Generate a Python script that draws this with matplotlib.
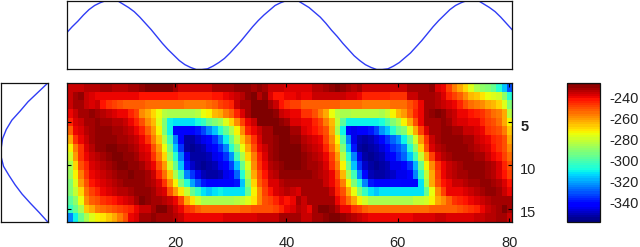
import numpy as np
import matplotlib
matplotlib.use("Agg")
import matplotlib.pyplot as plt
from matplotlib.transforms import ScaledTranslation

plt.rcParams['font.family'] = ['Liberation Sans', 'DejaVu Sans']
plt.rcParams['axes.unicode_minus'] = False

heat_rows = [
[-236,-236,-236,-234,-234,-234,-232,-232,-234,-234,-234,-232,-232,-230,-228,-228,-228,-228,-228,-232,-236,
 -236,-236,-236,-236,-236,-232,-232,-232,-232,-230,-230,-230,-232,-230,-232,-236,-236,-236,-238,-238,-238,
 -238,-238,-234,-234,-232,-230,-228,-230,-232,-234,-232,-235,-235,-236,-236,-236,-236,-236,-236,
 -232,-232,-232,-232,-230,-238,-240,-248,-256,-262,-268,-276,-284,-288,-290,-296,-305,-315,-330],
[-236,-232,-230,-236,-238,-240,-240,-240,-240,-240,-240,-240,-240,-242,-242,-242,-242,-242,-242,-242,-244,
 -243,-244,-244,-244,-243,-242,-242,-240,-238,-236,-234,-230,-228,-234,-230,-238,-242,-242,-240,-240,-238,
 -240,-240,-236,-236,-236,-236,-236,-236,-238,-238,-240,-243,-243,-243,-243,-243,-245,-245,-245,
 -236,-236,-232,-232,-232,-234,-238,-244,-248,-252,-258,-264,-266,-270,-274,-276,-278,-288,-305],
[-236,-232,-232,-236,-238,-236,-242,-246,-248,-250,-252,-252,-252,-252,-254,-254,-254,-254,-254,-254,-254,
 -255,-255,-255,-255,-254,-252,-247,-245,-243,-236,-232,-232,-228,-228,-228,-232,-236,-242,-245,-248,-247,
 -252,-252,-252,-252,-252,-252,-252,-254,-254,-254,-254,-256,-256,-256,-256,-256,-254,-254,-254,
 -250,-246,-240,-232,-232,-234,-236,-238,-240,-244,-250,-254,-256,-258,-262,-264,-268,-276,-292],
[-240,-236,-232,-232,-230,-232,-234,-236,-238,-240,-240,-244,-248,-258,-262,-268,-274,-282,-284,-284,-284,
 -284,-284,-282,-274,-272,-264,-262,-256,-252,-244,-238,-232,-228,-228,-228,-228,-230,-236,-238,-240,-240,
 -246,-246,-250,-256,-262,-274,-282,-284,-284,-282,-282,-282,-282,-282,-284,-280,-272,-264,-260,
 -252,-244,-240,-232,-230,-228,-230,-234,-236,-240,-240,-242,-244,-246,-250,-254,-256,-262,-282],
[-244,-238,-236,-232,-232,-230,-232,-232,-234,-234,-236,-240,-244,-250,-258,-264,-276,-292,-310,-312,-312,
 -312,-312,-308,-304,-296,-290,-286,-276,-268,-258,-248,-240,-236,-228,-228,-228,-228,-230,-232,-238,-238,
 -240,-240,-244,-248,-256,-264,-280,-298,-310,-310,-310,-310,-310,-310,-308,-300,-292,-284,-272,
 -262,-250,-240,-232,-232,-232,-230,-232,-236,-238,-238,-240,-240,-244,-248,-250,-254,-262,-272],
[-252,-240,-238,-234,-232,-230,-230,-230,-232,-232,-234,-236,-240,-244,-252,-260,-272,-290,-310,-340,-342,
 -342,-342,-338,-332,-324,-316,-306,-296,-284,-272,-258,-244,-240,-236,-232,-232,-228,-228,-228,-232,-232,
 -238,-240,-242,-245,-250,-262,-284,-310,-342,-344,-342,-342,-338,-332,-322,-315,-306,-296,-292,
 -276,-262,-248,-238,-232,-232,-230,-230,-232,-232,-236,-236,-238,-240,-246,-248,-250,-256,-266],
[-262,-246,-240,-236,-232,-230,-230,-230,-230,-232,-232,-234,-236,-240,-245,-255,-266,-282,-302,-325,-342,
 -352,-352,-348,-345,-340,-335,-325,-310,-296,-280,-266,-256,-245,-238,-232,-232,-230,-228,-228,-230,-230,
 -234,-236,-238,-240,-248,-258,-272,-300,-325,-344,-350,-352,-350,-346,-340,-335,-328,-322,-310,
 -296,-278,-260,-245,-236,-232,-230,-230,-230,-230,-232,-232,-236,-238,-240,-244,-246,-250,-262],
[-272,-256,-245,-238,-234,-230,-230,-228,-228,-230,-230,-232,-234,-238,-240,-250,-260,-274,-294,-316,-335,
 -352,-355,-352,-350,-345,-340,-335,-325,-306,-292,-274,-262,-250,-240,-236,-232,-230,-228,-228,-228,-228,
 -232,-234,-236,-238,-244,-254,-266,-292,-316,-338,-352,-355,-352,-350,-346,-340,-335,-330,-325,
 -306,-288,-268,-250,-238,-234,-232,-230,-230,-230,-230,-232,-234,-236,-238,-242,-246,-250,-258],
[-278,-260,-246,-240,-236,-234,-232,-230,-228,-228,-230,-230,-232,-236,-238,-245,-255,-268,-286,-306,-325,
 -345,-352,-353,-352,-350,-345,-340,-335,-322,-302,-284,-268,-256,-244,-238,-232,-230,-228,-228,-228,-228,
 -230,-232,-234,-236,-240,-248,-260,-282,-306,-325,-345,-352,-354,-352,-350,-345,-340,-335,-328,
 -315,-302,-280,-262,-248,-238,-234,-232,-230,-230,-230,-230,-232,-232,-236,-240,-242,-248,-254],
[-284,-268,-250,-243,-238,-236,-234,-232,-230,-228,-228,-230,-230,-232,-236,-240,-250,-260,-278,-296,-316,
 -338,-348,-352,-354,-352,-350,-345,-342,-332,-315,-296,-276,-258,-245,-240,-234,-232,-230,-228,-228,-228,
 -230,-232,-232,-234,-238,-245,-256,-272,-295,-315,-335,-348,-352,-354,-352,-350,-345,-345,-342,
 -335,-318,-296,-272,-258,-246,-240,-236,-234,-232,-230,-230,-230,-230,-232,-234,-238,-244,-250],
[-286,-272,-256,-245,-240,-238,-236,-234,-232,-230,-230,-228,-230,-230,-232,-236,-243,-254,-266,-284,-302,
 -325,-335,-345,-350,-353,-352,-350,-345,-340,-328,-306,-282,-262,-250,-242,-236,-234,-230,-230,-230,-230,
 -230,-230,-232,-234,-236,-240,-250,-264,-284,-302,-325,-340,-350,-352,-353,-350,-348,-345,-345,
 -340,-325,-304,-280,-262,-248,-240,-236,-234,-232,-232,-230,-230,-230,-232,-234,-238,-242,-248],
[-290,-276,-260,-250,-242,-240,-238,-236,-234,-232,-230,-230,-230,-230,-232,-234,-238,-245,-258,-272,-290,
 -305,-320,-330,-338,-342,-342,-340,-340,-340,-338,-316,-288,-268,-252,-245,-238,-238,-234,-232,-232,-232,
 -232,-232,-232,-232,-236,-240,-246,-256,-272,-290,-306,-325,-338,-342,-342,-342,-340,-340,-342,
 -342,-342,-312,-284,-262,-250,-242,-240,-236,-236,-234,-232,-232,-230,-230,-232,-234,-238,-242],
[-292,-280,-268,-254,-248,-244,-240,-238,-236,-234,-234,-232,-230,-230,-230,-232,-236,-238,-250,-260,-270,
 -280,-296,-304,-312,-315,-312,-310,-312,-312,-312,-312,-296,-272,-258,-248,-242,-238,-236,-234,-236,-238,
 -232,-232,-232,-232,-232,-236,-244,-250,-262,-274,-292,-304,-312,-315,-312,-312,-312,-312,-312,
 -312,-312,-312,-296,-274,-258,-248,-240,-240,-240,-238,-236,-234,-232,-230,-230,-232,-236,-240],
[-298,-288,-275,-258,-252,-250,-246,-244,-242,-240,-238,-236,-232,-228,-230,-232,-232,-234,-236,-240,-248,
 -262,-270,-278,-284,-285,-285,-285,-284,-284,-282,-280,-276,-270,-258,-250,-248,-244,-240,-242,-240,-232,
 -236,-232,-232,-232,-232,-232,-240,-246,-254,-262,-272,-278,-284,-284,-284,-285,-285,-285,-284,
 -284,-280,-280,-278,-272,-262,-258,-252,-246,-244,-242,-240,-238,-236,-234,-232,-232,-232,-232],
[-304,-296,-284,-266,-262,-256,-254,-252,-250,-248,-245,-243,-240,-236,-236,-232,-228,-228,-232,-236,-240,
 -246,-248,-252,-254,-254,-254,-253,-253,-253,-253,-252,-252,-250,-250,-250,-250,-248,-244,-240,-238,-234,
 -236,-240,-232,-228,-228,-230,-234,-240,-240,-245,-248,-252,-254,-254,-254,-254,-254,-253,-253,
 -253,-253,-253,-253,-252,-252,-252,-252,-252,-250,-248,-245,-243,-240,-236,-234,-232,-228,-232],
[-325,-310,-296,-285,-276,-272,-270,-266,-262,-256,-250,-240,-238,-232,-232,-230,-232,-232,-232,-234,-236,
 -240,-240,-240,-240,-240,-240,-240,-238,-238,-238,-238,-238,-238,-236,-236,-235,-235,-232,-232,-232,-232,
 -236,-236,-232,-232,-230,-228,-228,-230,-232,-234,-236,-238,-240,-240,-240,-240,-240,-240,-240,
 -240,-238,-238,-238,-238,-236,-236,-238,-238,-238,-238,-238,-236,-236,-234,-234,-232,-232,-236],
]

top_values = [
 .53,.62,.70,.79,.87,.93,.97,1.0,1.0,1.0,.95,.90,.84,.76,.67,.58,.48,.38,.29,.21,.13,.07,.03,.0,.0,.01,.05,.10,.16,.24,.33,.42,
 .52,.62,.71,.79,.86,.93,.97,1.0,1.0,1.0,.95,.90,.83,.76,.67,.57,.48,.38,.29,.20,.13,.07,.03,.0,.0,.01,.05,.10,.17,.24,.33,.42,
 .52,.62,.71,.79,.87,.93,.97,1.0,1.0,1.0,.95,.90,.84,.76,.67,.58]
left_values = [1.0,.79,.58,.41,.23,.11,.03,.0,.0,.05,.17,.30,.45,.63,.82,1.0]
x_ticks = [20, 40, 60, 80]
y_ticks = [5, 10, 15]
cbar_ticks = [-240, -260, -280, -300, -320, -340]

W, H = 640, 247
def box(x0, y0, x1, y1):
    return [x0 / W, 1 - y1 / H, (x1 - x0) / W, (y1 - y0) / H]

fig = plt.figure(figsize=(6.4, 2.47), dpi=100)
ax = fig.add_axes(box(66.5, 83.3, 512, 221.7))
data = np.array(heat_rows, dtype=float)
cmap = matplotlib.colormaps['jet'].resampled(64)
im = ax.imshow(data, aspect='auto', cmap=cmap, vmin=-358, vmax=-226,
               interpolation='nearest', extent=(0.5, 80.5, 16.5, 0.5))
ax.set_xticks(x_ticks)
ax.set_yticks(y_ticks)
ax.yaxis.tick_right()
ax.tick_params(axis='both', direction='in', length=3, width=0.8, labelsize=10.5,
               top=True, bottom=True, left=True, right=True, labelcolor='#222222')
ax.tick_params(axis='x', pad=10)
ax.tick_params(axis='y', pad=6)
shift = ScaledTranslation(0, -3 / 100, fig.dpi_scale_trans)
for lab in ax.get_yticklabels():
    lab.set_transform(lab.get_transform() + shift)
ax.get_yticklabels()[0].set_fontweight('bold')

line_color = '#2f3cf5'
axt = fig.add_axes(box(66.5, 0.6, 512, 69.5))
axt.plot(np.arange(1, len(top_values) + 1), top_values, color=line_color, lw=1.0)
axt.set_xlim(1, 80)
axt.set_ylim(0, 1)
axt.set_xticks([]); axt.set_yticks([])

axl = fig.add_axes(box(1.2, 83.3, 47.5, 221.7))
axl.plot(left_values, np.arange(1, len(left_values) + 1), color=line_color, lw=1.0)
axl.set_xlim(0, 1)
axl.set_ylim(16, 1)
axl.set_xticks([]); axl.set_yticks([])

cax = fig.add_axes(box(567, 83.3, 600, 221.7))
cb = fig.colorbar(im, cax=cax)
cb.set_ticks(cbar_ticks)
cb.ax.tick_params(length=0, labelsize=10.5, pad=6.5, labelcolor='#222222')

for a in (ax, axt, axl, cax):
    for s in a.spines.values():
        s.set_linewidth(0.9)
        s.set_color('#111111')

fig.savefig('out.png', dpi=100)
